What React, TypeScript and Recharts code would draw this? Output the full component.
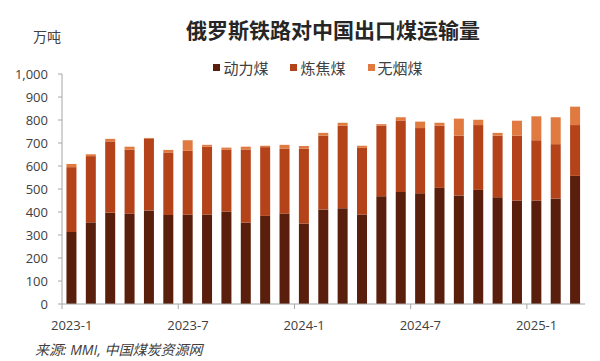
import { BarChart, Bar, XAxis, YAxis, Legend } from 'recharts';

const months = [
  '2023-1', '2023-2', '2023-3', '2023-4', '2023-5', '2023-6', '2023-7', '2023-8', '2023-9',
  '2023-10', '2023-11', '2023-12', '2024-1', '2024-2', '2024-3', '2024-4', '2024-5', '2024-6',
  '2024-7', '2024-8', '2024-9', '2024-10', '2024-11', '2024-12', '2025-1', '2025-2', '2025-3',
];

// 动力煤
const thermal = [313, 355, 397, 393, 407, 387, 389, 389, 402, 354, 383, 393, 350, 411, 416, 389, 468, 487, 481, 505, 472, 496, 464, 450, 450, 459, 557];
// 炼焦煤
const coking = [282, 288, 310, 278, 313, 272, 277, 295, 270, 318, 299, 283, 326, 321, 359, 290, 308, 311, 284, 270, 260, 282, 268, 282, 262, 236, 221];
// 无烟煤
const anthracite = [14, 8, 11, 13, 2, 11, 46, 8, 8, 12, 6, 16, 11, 12, 13, 9, 6, 14, 28, 13, 74, 23, 12, 65, 104, 117, 80];

const yTicks = [0, 100, 200, 300, 400, 500, 600, 700, 800, 900, 1000];

const series = [
  { key: 'thermal', name: '动力煤', color: '#5A1E0C' },
  { key: 'coking', name: '炼焦煤', color: '#B5431A' },
  { key: 'anthracite', name: '无烟煤', color: '#E07A40' },
];

const data = months.map((m, i) => ({
  month: m,
  thermal: thermal[i],
  coking: coking[i],
  anthracite: anthracite[i],
}));

const W = 600;
const H = 361;
const margin = { top: 53, right: 15, left: 0, bottom: 32 };
const yAxisWidth = 62;
const band = (W - margin.left - margin.right - yAxisWidth) / months.length;

const font = '"Open Sans", "Noto Sans CJK SC", sans-serif';
const textColor = '#404040';
const axisColor = '#A6A6A6';

function MonthTick(props: any) {
  const { x, y, payload } = props;
  const bx = x - band / 2;
  return (
    <g>
      <line x1={bx} y1={y} x2={bx} y2={y + 5} stroke={axisColor} />
      <text x={x} y={y + 26} textAnchor="middle" fill={textColor} fontSize={13} fontFamily={font}>
        {payload.value}
      </text>
    </g>
  );
}

function LegendBox() {
  return (
    <div style={{ display: 'flex', justifyContent: 'center', gap: 22, fontFamily: font, fontSize: 15, color: textColor, paddingLeft: 36 }}>
      {series.map((s) => (
        <div key={s.key} style={{ display: 'flex', alignItems: 'center' }}>
          <span style={{ display: 'inline-block', width: 7, height: 7, background: s.color, marginRight: 3 }} />
          <span>{s.name}</span>
        </div>
      ))}
    </div>
  );
}

export default function App() {
  return (
    <div style={{ position: 'absolute', left: 0, top: 0, width: W, height: H, background: '#fff', fontFamily: font }}>
      <div style={{ position: 'absolute', left: 0, width: W, top: 14, textAlign: 'center', paddingLeft: 66, boxSizing: 'border-box', fontSize: 21, fontWeight: 'bold', color: '#262626' }}>
        俄罗斯铁路对中国出口煤运输量
      </div>
      <div style={{ position: 'absolute', left: 33, top: 26, fontSize: 14, color: textColor }}>万吨</div>
      <BarChart width={W} height={H} data={data} margin={margin} barCategoryGap="23%">
        <Legend verticalAlign="top" wrapperStyle={{ top: 57, left: 0, width: W }} content={() => <LegendBox />} />
        <XAxis
          dataKey="month"
          interval={5}
          tickLine={false}
          tickSize={0}
          tickMargin={0}
          axisLine={{ stroke: axisColor }}
          tick={<MonthTick />}
          height={25}
        />
        <YAxis
          domain={[0, 1000]}
          ticks={yTicks}
          width={yAxisWidth}
          tickSize={4}
          tickMargin={10}
          tickLine={{ stroke: axisColor }}
          axisLine={{ stroke: axisColor }}
          tickFormatter={(v: number) => v.toLocaleString('en-US')}
          tick={{ fill: textColor, fontSize: 13, fontFamily: font }}
          interval={0}
        />
        {series.map((s) => (
          <Bar key={s.key} dataKey={s.key} name={s.name} stackId="a" fill={s.color} isAnimationActive={false} />
        ))}
      </BarChart>
      <div style={{ position: 'absolute', left: 35, top: 339, fontSize: 14, fontStyle: 'italic', color: textColor }}>
        来源: MMI, 中国煤炭资源网
      </div>
    </div>
  );
}
